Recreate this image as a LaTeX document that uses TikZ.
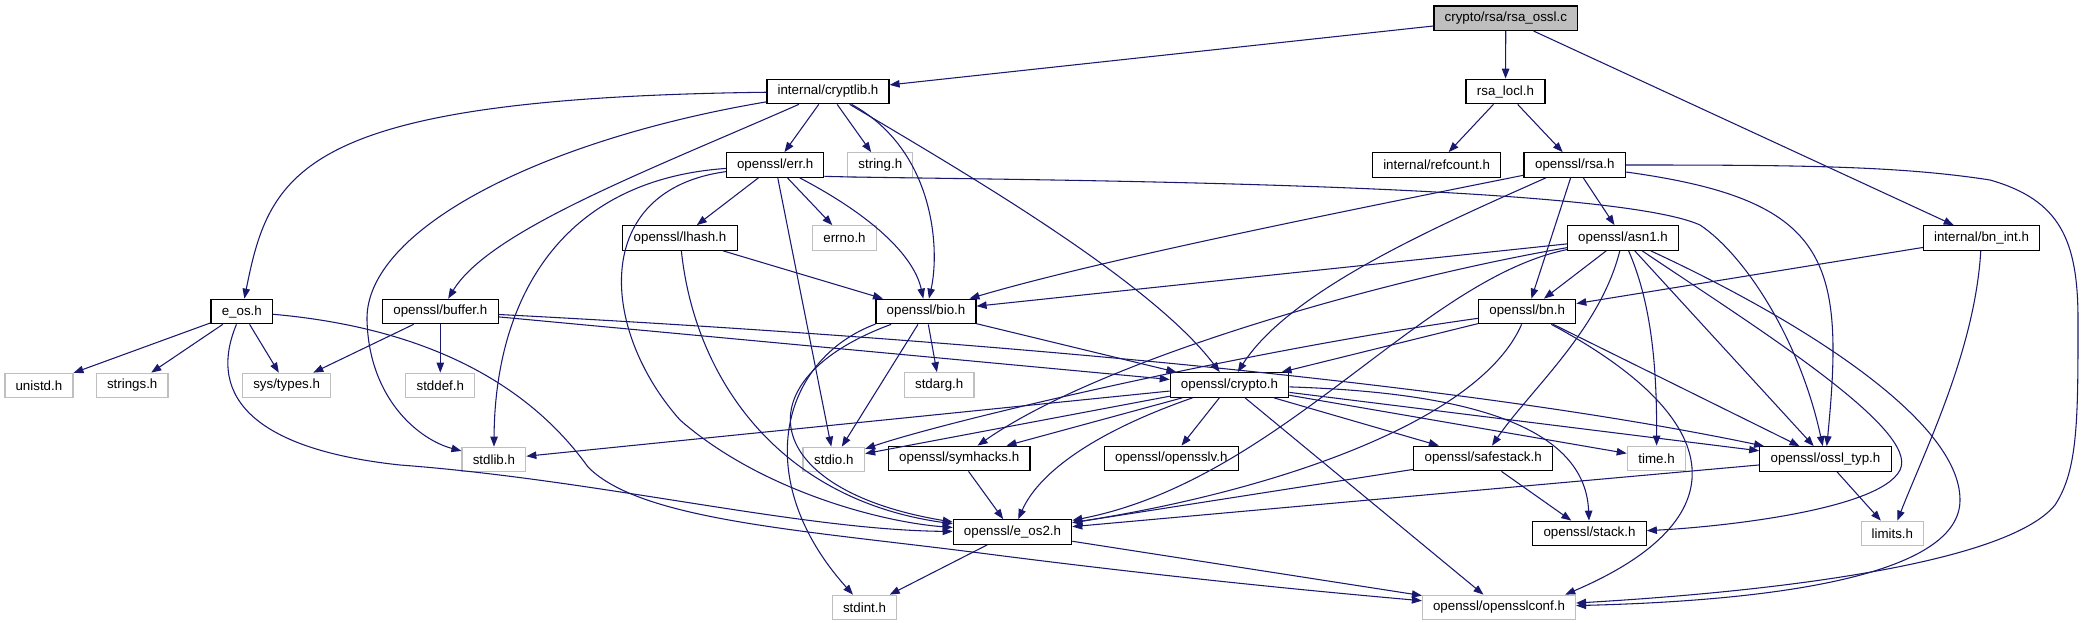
\documentclass[tikz,border=0pt]{standalone}
\usepackage{fontspec}
\setmainfont{Liberation Sans}
\usetikzlibrary{arrows.meta}
\definecolor{edgec}{HTML}{191970}
\definecolor{lgray}{HTML}{BFBFBF}
\begin{document}
\begin{tikzpicture}[x=0.75pt,y=-0.75pt,
  box/.style={draw=black,line width=0.9pt,fill=white,minimum height=18.4pt,inner sep=0pt,font=\fontsize{10}{12}\selectfont},
  gbox/.style={box,draw=lgray},
  bw/.style={minimum width=#1*0.75pt},
  edge/.style={draw=edgec,line width=0.8pt,-{Triangle[length=7.5pt,width=5.6pt]}}]
\useasboundingbox (0,0) rectangle (2087,623);
% nodes
\node[box,fill=lgray,bw=143.5] (src) at (1505.8,18.2) {crypto/rsa/rsa\_ossl.c};
\node[box,bw=122] (cryptlib) at (828,91.5) {internal/cryptlib.h};
\node[box,bw=79] (rsalocl) at (1505.5,91.5) {rsa\_locl.h};
\node[box,bw=128] (refcount) at (1436.6,165) {internal/refcount.h};
\node[box,bw=101.6] (rsa) at (1574.8,165) {openssl/rsa.h};
\node[box,bw=97] (err) at (775.2,165) {openssl/err.h};
\node[gbox,bw=65] (string) at (880.3,165) {string.h};
\node[box,bw=114.5] (lhash) at (680,238) {openssl/lhash.h};
\node[gbox,bw=64] (errno) at (844.5,238) {errno.h};
\node[box,bw=111] (asn1) at (1623,238) {openssl/asn1.h};
\node[box,bw=116] (bnint) at (1981.5,238) {internal/bn\_int.h};
\node[box,bw=61.5] (eos) at (241.8,311.5) {e\_os.h};
\node[box,bw=116] (buffer) at (440.3,311.5) {openssl/buffer.h};
\node[box,bw=100] (bio) at (926,311.5) {openssl/bio.h};
\node[box,bw=97] (bn) at (1527.2,311.5) {openssl/bn.h};
\node[gbox,bw=68] (unistd) at (38.9,385.5) {unistd.h};
\node[gbox,bw=71.6] (strings) at (132.2,385.5) {strings.h};
\node[gbox,bw=88.4] (systypes) at (286.6,385.5) {sys/types.h};
\node[gbox,bw=69] (stddef) at (440.3,385.5) {stddef.h};
\node[gbox,bw=69.7] (stdarg) at (939.2,385) {stdarg.h};
\node[box,bw=118.4] (crypto) at (1229.5,385) {openssl/crypto.h};
\node[gbox,bw=63.7] (stdlib) at (493.9,459.5) {stdlib.h};
\node[gbox,bw=61.5] (stdio) at (833.8,459.5) {stdio.h};
\node[box,bw=141.7] (symhacks) at (959.2,458.5) {openssl/symhacks.h};
\node[box,bw=134] (opensslv) at (1171.3,458.5) {openssl/opensslv.h};
\node[box,bw=139] (safestack) at (1483.2,458.5) {openssl/safestack.h};
\node[gbox,bw=58.4] (time) at (1656.5,458.5) {time.h};
\node[box,bw=131.5] (ossltyp) at (1825.5,459) {openssl/ossl\_typ.h};
\node[box,bw=118.4] (eos2) at (1012.5,532) {openssl/e\_os2.h};
\node[box,bw=113.5] (stack) at (1589.5,533.5) {openssl/stack.h};
\node[gbox,bw=62] (limits) at (1892.3,533.5) {limits.h};
\node[gbox,bw=64.3] (stdint) at (864.5,607.5) {stdint.h};
\node[gbox,bw=153] (opensslconf) at (1499,607.5) {openssl/opensslconf.h};
% edges
\draw[edge] (src) -- (cryptlib);
\draw[edge] (src) -- (rsalocl);
\draw[edge] (src) -- (bnint);
\draw[edge] (rsalocl) -- (refcount);
\draw[edge] (rsalocl) -- (rsa);
% cryptlib
\draw[edge] (cryptlib) .. controls (300,98) and (270,170) .. (eos);
\draw[edge] (cryptlib) .. controls (540,140) and (365,230) .. (367,320) .. controls (369,400) and (420,440) .. (stdlib);
\draw[edge] (cryptlib) .. controls (650,170) and (490,230) .. (buffer);
\draw[edge] (cryptlib) -- (err);
\draw[edge] (cryptlib) -- (string);
\draw[edge] (cryptlib) .. controls (935,150) and (940,250) .. (bio);
\draw[edge] (cryptlib) .. controls (960,170) and (1150,280) .. (crypto);
% err
\draw[edge] (err) -- (lhash);
\draw[edge] (err) -- (errno);
\draw[edge] (err) .. controls (880,220) and (915,260) .. (bio);
\draw[edge] (err) -- (stdio);
\draw[edge] (err) .. controls (560,180) and (495,300) .. (stdlib);
\draw[edge] (err) .. controls (590,190) and (600,330) .. (680,420) .. controls (760,490) and (880,522) .. (eos2);
\draw[edge] (err.-13) .. controls (950,180) and (1600,180) .. (1700,225) .. controls (1745,255) and (1800,340) .. (ossltyp);
% lhash
\draw[edge] (lhash) -- (bio);
\draw[edge] (lhash) .. controls (695,380) and (780,500) .. (eos2);
% e_os
\draw[edge] (eos) -- (unistd);
\draw[edge] (eos) -- (strings);
\draw[edge] (eos) -- (systypes);
\draw[edge] (eos) .. controls (205,400) and (260,450) .. (400,465) .. controls (600,480) and (800,530) .. (eos2);
\draw[edge] (eos) .. controls (450,330) and (540,400) .. (588,467) .. controls (640,520) and (800,530) .. (980,553) .. controls (1150,575) and (1300,590) .. (opensslconf);
% buffer
\draw[edge] (buffer) -- (systypes);
\draw[edge] (buffer) -- (stddef);
\draw[edge] (buffer) -- (crypto);
\draw[edge] (buffer) .. controls (800,330) and (1400,370) .. (ossltyp);
% bio
\draw[edge] (bio) -- (stdarg);
\draw[edge] (bio) -- (stdio);
\draw[edge] (bio) -- (crypto);
\draw[edge] (bio) .. controls (740,380) and (760,490) .. (eos2);
\draw[edge] (bio.-166) .. controls (780,360) and (750,480) .. (stdint);
% rsa
\draw[edge] (rsa) .. controls (1350,210) and (1100,260) .. (bio);
\draw[edge] (rsa) .. controls (1440,225) and (1290,290) .. (crypto);
\draw[edge] (rsa) -- (bn);
\draw[edge] (rsa) -- (asn1);
\draw[edge] (rsa) .. controls (1830,200) and (1845,260) .. (ossltyp);
\draw[edge] (rsa) .. controls (1800,165) and (1900,166) .. (1990,180) .. controls (2060,200) and (2078,240) .. (2078,320) .. controls (2078,420) and (2078,470) .. (2055,505) .. controls (2010,560) and (1800,590) .. (opensslconf);
% asn1
\draw[edge] (asn1) -- (bio);
\draw[edge] (asn1) .. controls (1380,280) and (1100,360) .. (symhacks);
\draw[edge] (asn1) .. controls (1420,280) and (1280,480) .. (eos2);
\draw[edge] (asn1) -- (bn);
\draw[edge] (asn1) .. controls (1600,330) and (1530,390) .. (safestack);
\draw[edge] (asn1) .. controls (1650,300) and (1657,360) .. (time);
\draw[edge] (asn1) -- (ossltyp);
\draw[edge] (asn1) .. controls (1760,330) and (1920,430) .. (1900,470) .. controls (1880,510) and (1720,527) .. (stack);
\draw[edge] (asn1) .. controls (1800,320) and (1960,420) .. (1960,500) .. controls (1960,570) and (1800,600) .. (opensslconf);
% bn_int
\draw[edge] (bnint) -- (bn);
\draw[edge] (bnint) .. controls (1975,350) and (1925,450) .. (limits);
% bn
\draw[edge] (bn) .. controls (1250,350) and (950,420) .. (stdio);
\draw[edge] (bn) -- (crypto);
\draw[edge] (bn) .. controls (1480,420) and (1280,490) .. (eos2);
\draw[edge] (bn) -- (ossltyp);
\draw[edge] (bn) .. controls (1730,420) and (1740,520) .. (opensslconf.11);
% crypto
\draw[edge] (crypto) -- (stdlib);
\draw[edge] (crypto) -- (stdio);
\draw[edge] (crypto) -- (symhacks);
\draw[edge] (crypto) .. controls (1100,430) and (1040,470) .. (eos2);
\draw[edge] (crypto) -- (opensslv);
\draw[edge] (crypto) -- (opensslconf);
\draw[edge] (crypto) -- (safestack);
\draw[edge] (crypto) -- (time);
\draw[edge] (crypto) -- (ossltyp);
\draw[edge] (crypto) .. controls (1450,392) and (1585,420) .. (stack);
% lower
\draw[edge] (safestack) -- (stack);
\draw[edge] (safestack) -- (eos2);
\draw[edge] (ossltyp) -- (eos2);
\draw[edge] (ossltyp) -- (limits);
\draw[edge] (symhacks) -- (eos2);
\draw[edge] (eos2) -- (stdint);
\draw[edge] (eos2) -- (opensslconf);
\end{tikzpicture}
\end{document}
